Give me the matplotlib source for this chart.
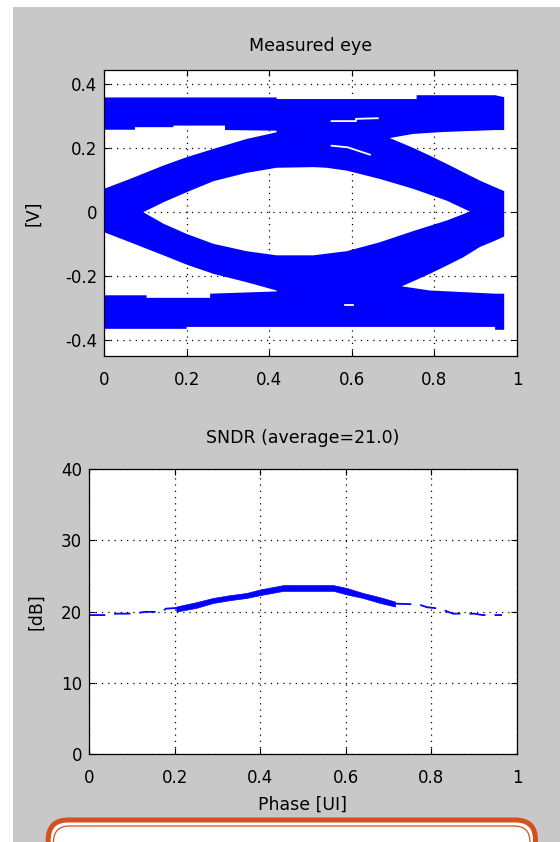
import numpy as np
import matplotlib
matplotlib.use("Agg")
import matplotlib.pyplot as plt
from matplotlib.path import Path
from matplotlib.patches import PathPatch, Rectangle, FancyBboxPatch

plt.rcParams["font.family"] = "DejaVu Sans"
plt.rcParams["axes.unicode_minus"] = False

# ---- eye diagram outline ([UI], [V]) ----
# outer envelope: top rail upper edge (left->right), bottom rail lower edge
eye_top_x = [0.0, 0.418, 0.418, 0.757, 0.757, 0.947, 0.969]
eye_top_y = [0.359, 0.359, 0.354, 0.354, 0.366, 0.366, 0.360]
eye_bot_x = [0.0, 0.200, 0.200, 0.947, 0.947, 0.969]
eye_bot_y = [-0.365, -0.365, -0.359, -0.359, -0.368, -0.368]

# white openings inside the envelope
hole_ul_x = [0.0, 0.075, 0.075, 0.168, 0.168, 0.293, 0.293, 0.418, 0.418,
             0.345, 0.265, 0.200, 0.144, 0.063, 0.0]
hole_ul_y = [0.258, 0.258, 0.266, 0.266, 0.271, 0.271, 0.257, 0.255, 0.250,
             0.229, 0.198, 0.172, 0.146, 0.104, 0.073]
hole_ur_x = [0.692, 0.749, 0.822, 0.947, 0.969, 0.969, 0.947, 0.910, 0.870,
             0.830, 0.789, 0.749]
hole_ur_y = [0.232, 0.245, 0.251, 0.257, 0.257, 0.066, 0.078, 0.099, 0.125,
             0.151, 0.177, 0.201]
hole_c_x = [0.095, 0.144, 0.200, 0.265, 0.345, 0.418, 0.507, 0.539, 0.588,
            0.668, 0.749, 0.830, 0.886,
            0.830, 0.749, 0.668, 0.588, 0.507, 0.418, 0.345, 0.265, 0.200, 0.144]
hole_c_y = [0.0, 0.031, 0.0625, 0.097, 0.123, 0.139, 0.141, 0.139, 0.130,
            0.104, 0.073, 0.036, 0.002,
            -0.026, -0.059, -0.094, -0.122, -0.135, -0.135, -0.122, -0.099, -0.068, -0.036]
hole_ll_x = [0.0, 0.063, 0.144, 0.200, 0.265, 0.345, 0.418, 0.418, 0.257,
             0.257, 0.103, 0.103, 0.0]
hole_ll_y = [-0.0625, -0.094, -0.135, -0.164, -0.193, -0.219, -0.245, -0.248,
             -0.255, -0.268, -0.268, -0.260, -0.260]
hole_lr_x = [0.721, 0.789, 0.830, 0.870, 0.910, 0.947, 0.969, 0.969, 0.947, 0.789]
hole_lr_y = [-0.232, -0.193, -0.167, -0.141, -0.109, -0.089, -0.076, -0.255,
             -0.255, -0.245]

# thin white slivers inside the top rail / crossing
sliver_x = [[0.551, 0.610, 0.610, 0.663], [0.551, 0.590, 0.644], [0.584, 0.603]]
sliver_y = [[0.285, 0.285, 0.292, 0.294], [0.208, 0.203, 0.180], [-0.289, -0.289]]

# ---- SNDR vs phase ----
sndr_left_x = [0.0, 0.037, 0.064, 0.107, 0.130, 0.170, 0.180, 0.206]
sndr_left_y = [19.5, 19.5, 19.7, 19.7, 19.95, 19.95, 20.4, 20.5]
sndr_band_x = [0.204, 0.25, 0.29, 0.33, 0.368, 0.40, 0.454, 0.50, 0.571,
               0.602, 0.64, 0.68, 0.715]
sndr_band_hi = [20.7, 21.3, 21.9, 22.3, 22.6, 23.1, 23.7, 23.7, 23.7,
                23.3, 22.6, 22.0, 21.4]
sndr_band_lo = [20.0, 20.5, 21.2, 21.6, 21.9, 22.3, 22.9, 22.9, 22.9,
                22.4, 21.9, 21.2, 20.7]
sndr_right_x = [0.715, 0.77, 0.79, 0.82, 0.85, 0.90, 0.92, 0.965]
sndr_right_y = [21.1, 21.0, 20.6, 20.4, 19.7, 19.7, 19.5, 19.5]
sndr_avg = 21.0

x_ticks = [0, 0.2, 0.4, 0.6, 0.8, 1]
x_ticklabels = ["0", "0.2", "0.4", "0.6", "0.8", "1"]
eye_yticks = [-0.4, -0.2, 0, 0.2, 0.4]
eye_yticklabels = ["-0.4", "-0.2", "0", "0.2", "0.4"]
sndr_yticks = [0, 10, 20, 30, 40]


def signed_area(x, y):
    x = np.asarray(x)
    y = np.asarray(y)
    return 0.5 * np.sum(x * np.roll(y, -1) - np.roll(x, -1) * y)


def ring(x, y, ccw):
    x = list(x)
    y = list(y)
    if (signed_area(x, y) > 0) != ccw:
        x, y = x[::-1], y[::-1]
    verts = list(zip(x, y)) + [(x[0], y[0])]
    codes = [Path.MOVETO] + [Path.LINETO] * (len(x) - 1) + [Path.CLOSEPOLY]
    return verts, codes


def style_axes(ax, xlim, ylim, yticks, yticklabels):
    ax.set_xlim(*xlim)
    ax.set_ylim(*ylim)
    ax.set_xticks(x_ticks)
    ax.set_xticklabels(x_ticklabels)
    ax.set_yticks(yticks)
    ax.set_yticklabels(yticklabels)
    ax.set_axisbelow(True)
    ax.grid(True, color="black", linestyle=(0, (1, 4)), linewidth=0.9)
    ax.tick_params(direction="in", top=True, right=True, length=4, width=0.8,
                   labelsize=12, colors="black")
    ax.tick_params(axis="x", pad=11)
    ax.tick_params(axis="y", pad=5)
    for sp in ax.spines.values():
        sp.set_linewidth(0.9)
        sp.set_color("black")


fig = plt.figure(figsize=(5.6, 8.42), dpi=100, facecolor="white")

# grey figure area like the original window
fig.add_artist(Rectangle((13 / 560, 0), 1, (842 - 7) / 842, transform=fig.transFigure,
                         facecolor="#c8c8c8", edgecolor="none", zorder=-10))

# ---- top: measured eye ----
ax1 = fig.add_axes([0.1857, 0.5772, 0.7375, 0.3397])
outer_x = eye_top_x + eye_bot_x[::-1]
outer_y = eye_top_y + eye_bot_y[::-1]
verts, codes = ring(outer_x, outer_y, ccw=True)
for hx, hy in [(hole_ul_x, hole_ul_y), (hole_ur_x, hole_ur_y), (hole_c_x, hole_c_y),
               (hole_ll_x, hole_ll_y), (hole_lr_x, hole_lr_y)]:
    v, c = ring(hx, hy, ccw=False)
    verts += v
    codes += c
ax1.add_patch(PathPatch(Path(verts, codes), facecolor="#0000ff", edgecolor="none",
                        linewidth=0, zorder=2))
for sx, sy in zip(sliver_x, sliver_y):
    ax1.plot(sx, sy, color="white", linewidth=1.3, zorder=3)

style_axes(ax1, (0, 1), (-0.45, 0.445), eye_yticks, eye_yticklabels)
ax1.set_title("Measured eye", fontsize=12.5, pad=14)
ax1.set_ylabel("[V]", fontsize=12.5, va="center")
ax1.yaxis.set_label_coords(-0.172, 0.5)

# ---- bottom: SNDR ----
ax2 = fig.add_axes([0.1589, 0.1045, 0.7643, 0.3385])
ax2.fill_between(sndr_band_x, sndr_band_lo, sndr_band_hi, color="#0000ff",
                 linewidth=0.5, zorder=2)
ax2.plot(sndr_left_x, sndr_left_y, color="#0000ff", linewidth=1.3,
         dashes=(9, 5), zorder=2)
ax2.plot(sndr_right_x, sndr_right_y, color="#0000ff", linewidth=1.3,
         dashes=(9, 5), zorder=2)

style_axes(ax2, (0, 1), (0, 40), sndr_yticks, [str(t) for t in sndr_yticks])
ax2.set_title(f"SNDR (average={sndr_avg:.1f})", fontsize=12.5, pad=19)
ax2.set_xlabel("Phase [UI]", fontsize=12.5, labelpad=6)
ax2.set_ylabel("[dB]", fontsize=12.5, va="center")
ax2.yaxis.set_label_coords(-0.124, 0.5)

# orange rounded frame cut by the bottom edge
fig.add_artist(FancyBboxPatch((0.482, -1.0), 5.355 - 0.482, 0.22 + 1.0,
                              boxstyle="round,pad=0,rounding_size=0.2",
                              transform=fig.dpi_scale_trans, facecolor="white",
                              edgecolor="#d4501c", linewidth=3.6, zorder=5))
fig.add_artist(FancyBboxPatch((0.535, -1.0), 5.30 - 0.535, 0.16 + 1.0,
                              boxstyle="round,pad=0,rounding_size=0.16",
                              transform=fig.dpi_scale_trans, facecolor="none",
                              edgecolor="#d4501c", linewidth=0.9, zorder=6))

fig.savefig("out.png", dpi=100, facecolor=fig.get_facecolor())
